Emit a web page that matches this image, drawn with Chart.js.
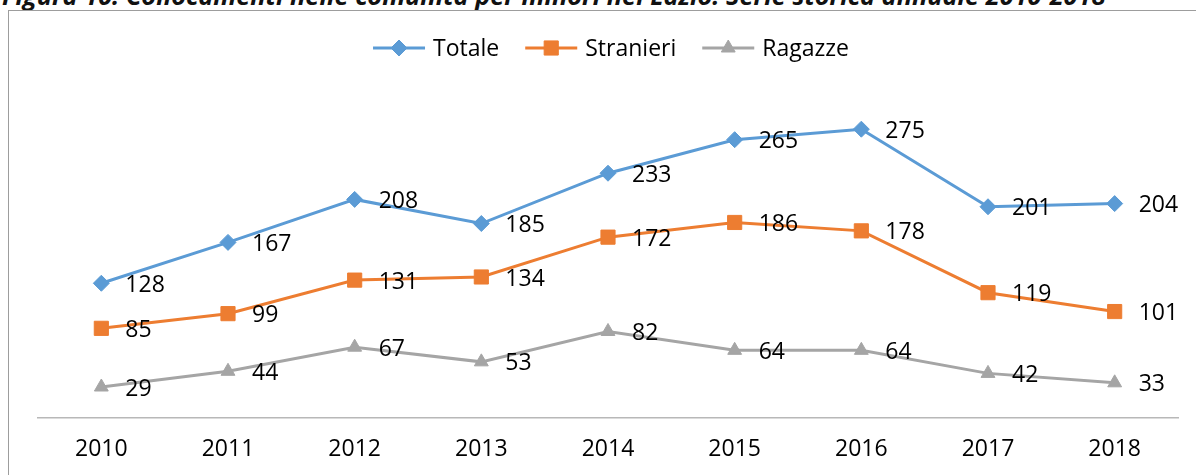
<!DOCTYPE html>
<html>
<head>
<meta charset="utf-8">
<script src="https://cdn.jsdelivr.net/npm/chart.js@4.4.0/dist/chart.umd.min.js"></script>
<style>
    html, body { margin: 0; padding: 0; background: #fff; }
    body { width: 1196px; height: 475px; position: relative; overflow: hidden; }
    #caption {
        position: absolute; left: 2px; top: -17px; white-space: nowrap;
        font-family: 'Open Sans', sans-serif; font-weight: bold; font-style: italic;
        font-size: 24px; line-height: 24px; color: #111;
    }
    #frame {
        position: absolute; left: 8px; top: 10px; width: 1300px; height: 600px;
        border-left: 1px solid #9d9d9d; border-top: 1px solid #9d9d9d;
    }
    #wrap { position: absolute; left: 0; top: 0; width: 1196px; height: 481px; }
</style>
</head>
<body>
<div id="caption">Figura 10: Collocamenti nelle comunità per minori nel Lazio: Serie storica annuale 2010-2018</div>
<div id="frame"></div>
<div id="wrap"><canvas id="chart"></canvas></div>
<script>
// Data
const years = ['2010', '2011', '2012', '2013', '2014', '2015', '2016', '2017', '2018'];
const totale = [128, 167, 208, 185, 233, 265, 275, 201, 204];
const stranieri = [85, 99, 131, 134, 172, 186, 178, 119, 101];
const ragazze = [29, 44, 67, 53, 82, 64, 64, 42, 33];

const FONT = "'Open Sans', sans-serif";

// fit caption to its width in the picture
const caption = document.getElementById('caption');
const capWidth = caption.getBoundingClientRect().width;
const fs = 24 * 1104 / capWidth;
caption.style.fontSize = fs + 'px';
caption.style.lineHeight = fs + 'px';
caption.style.top = (5 - 0.888 * fs) + 'px';

// value labels to the right of each point
const valueLabels = {
    id: 'valueLabels',
    afterDatasetsDraw(chart) {
        const ctx = chart.ctx;
        ctx.save();
        ctx.font = '23px ' + FONT;
        ctx.fillStyle = '#000';
        ctx.textAlign = 'left';
        ctx.textBaseline = 'middle';
        chart.data.datasets.forEach((ds, i) => {
            chart.getDatasetMeta(i).data.forEach((pt, j) => {
                ctx.fillText(ds.data[j], pt.x + 24, pt.y + 2);
            });
        });
        ctx.restore();
    }
};

// legend with a line and marker for each series
const lineLegend = {
    id: 'lineLegend',
    afterDraw(chart) {
        const ctx = chart.ctx;
        const lineLen = 52, textGap = 8, itemGap = 26, y = 48, center = 611;
        ctx.save();
        ctx.font = '23px ' + FONT;
        const items = chart.data.datasets.map(ds => ({ ds, w: ctx.measureText(ds.label).width }));
        let total = 0;
        items.forEach((it, i) => { total += lineLen + textGap + it.w + (i ? itemGap : 0); });
        let x = center - total / 2;
        items.forEach(it => {
            const ds = it.ds;
            ctx.strokeStyle = ds.borderColor;
            ctx.lineWidth = 3;
            ctx.beginPath();
            ctx.moveTo(x, y);
            ctx.lineTo(x + lineLen, y);
            ctx.stroke();
            ctx.fillStyle = ds.pointBackgroundColor;
            ctx.strokeStyle = ds.pointBorderColor;
            ctx.lineWidth = 1;
            Chart.helpers.drawPoint(ctx, {
                pointStyle: ds.pointStyle, radius: ds.pointRadius, rotation: 0, borderWidth: 1
            }, x + lineLen / 2, y);
            ctx.fillStyle = '#000';
            ctx.textAlign = 'left';
            ctx.textBaseline = 'middle';
            ctx.fillText(ds.label, x + lineLen + textGap, y + 1);
            x += lineLen + textGap + it.w + itemGap;
        });
        ctx.restore();
    }
};

function series(label, data, color, style, radius) {
    return {
        label: label,
        data: data,
        borderColor: color,
        backgroundColor: color,
        pointBackgroundColor: color,
        pointBorderColor: color,
        pointStyle: style,
        pointRadius: radius,
        pointHoverRadius: radius,
        pointBorderWidth: 1,
        borderWidth: 3,
        tension: 0,
        fill: false
    };
}

new Chart(document.getElementById('chart'), {
    type: 'line',
    data: {
        labels: years,
        datasets: [
            series('Totale', totale, '#5B9BD5', 'rectRot', 8),
            series('Stranieri', stranieri, '#ED7D31', 'rect', 10),
            series('Ragazze', ragazze, '#A5A5A5', 'triangle', 8)
        ]
    },
    options: {
        responsive: true,
        maintainAspectRatio: false,
        animation: false,
        layout: { padding: { left: 38, right: 18, top: 103, bottom: 0 } },
        plugins: {
            legend: { display: false },
            tooltip: { enabled: false }
        },
        scales: {
            x: {
                offset: true,
                grid: { display: false, drawTicks: false },
                border: { display: true, color: '#b8b8b8', width: 1.5 },
                ticks: { color: '#000', padding: 18, font: { family: FONT, size: 23 } }
            },
            y: {
                display: false,
                min: 0,
                max: 300
            }
        }
    },
    plugins: [valueLabels, lineLegend]
});
</script>
</body>
</html>
